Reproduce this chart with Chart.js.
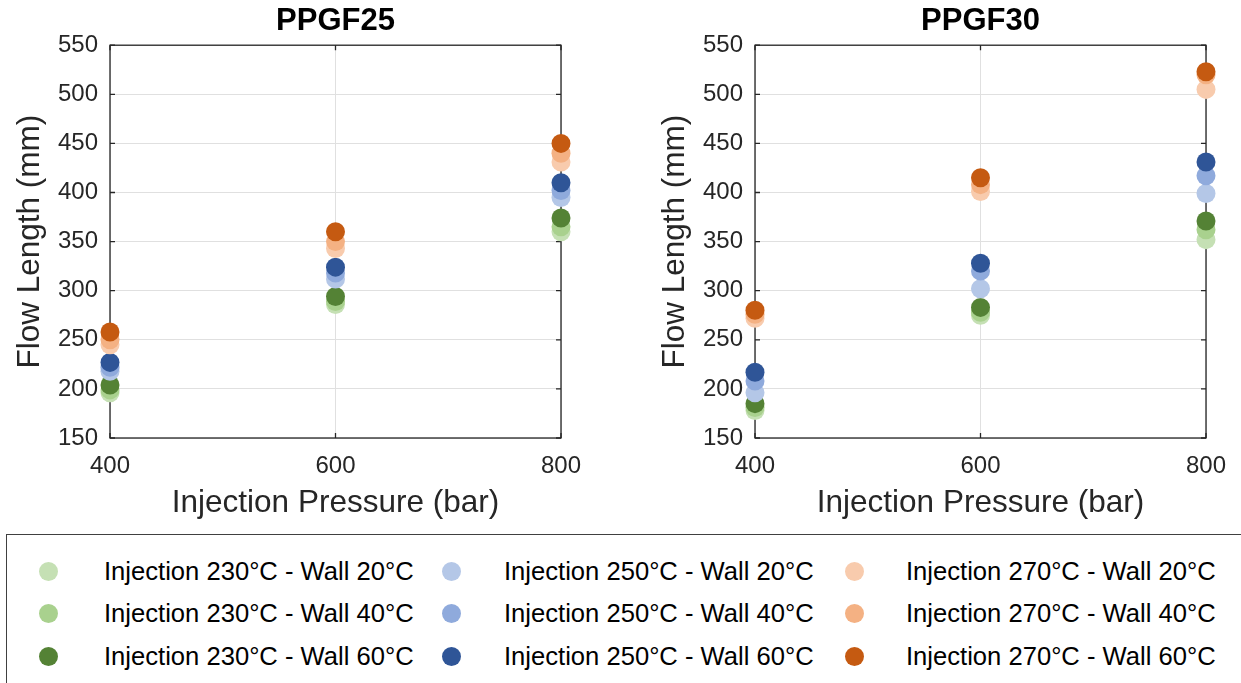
<!DOCTYPE html>
<html>
<head>
<meta charset="utf-8">
<script src="https://cdn.jsdelivr.net/npm/chart.js@4/dist/chart.umd.min.js"></script>
<style>
  html, body { margin: 0; padding: 0; background: #fff; overflow: hidden; }
  body { width: 1241px; height: 683px; position: relative; font-family: "Liberation Sans", Arial, sans-serif; }
  .plot { position: absolute; top: 0; height: 530px; width: 671px; }
  #legend {
    position: absolute; left: 6px; top: 534px; width: 1250px; height: 160px;
    border: 1.5px solid #404040; box-sizing: border-box;
  }
  .item { position: absolute; font-size: 25.6px; color: #000; white-space: nowrap; line-height: 30px; }
  .dot { position: absolute; width: 19px; height: 19px; border-radius: 50%; }
</style>
</head>
<body>
<div class="plot" style="left:0"><canvas id="c25"></canvas></div>
<div class="plot" style="left:645px"><canvas id="c30"></canvas></div>
<div id="legend"></div>

<script>
// x values
const pressures = [400, 600, 800];
const yTicks = [150, 200, 250, 300, 350, 400, 450, 500, 550];

// series labels / colours (order: 230/20, 230/40, 230/60, 250/..., 270/...)
const seriesLabels = [
  "Injection 230°C - Wall 20°C", "Injection 230°C - Wall 40°C", "Injection 230°C - Wall 60°C",
  "Injection 250°C - Wall 20°C", "Injection 250°C - Wall 40°C", "Injection 250°C - Wall 60°C",
  "Injection 270°C - Wall 20°C", "Injection 270°C - Wall 40°C", "Injection 270°C - Wall 60°C"
];
const seriesColors = [
  "#c5e0b4", "#a9d18e", "#548235",
  "#b4c7e7", "#8faadc", "#2f5597",
  "#f8cbad", "#f4b183", "#c55a11"
];

// PPGF25 flow length (mm)
const gf25_230_20 = [196, 286, 360];
const gf25_230_40 = [199, 289, 365];
const gf25_230_60 = [204, 294, 374];
const gf25_250_20 = [218, 312, 395];
const gf25_250_40 = [222, 318, 402];
const gf25_250_60 = [227, 324, 410];
const gf25_270_20 = [245, 343, 431];
const gf25_270_40 = [250, 350, 440];
const gf25_270_60 = [258, 360, 450];

// PPGF30 flow length (mm)
const gf30_230_20 = [178, 275, 352];
const gf30_230_40 = [181, 278, 362];
const gf30_230_60 = [185, 283, 371];
const gf30_250_20 = [196, 302, 399];
const gf30_250_40 = [208, 320, 417];
const gf30_250_60 = [217, 328, 431];
const gf30_270_20 = [272, 401, 505];
const gf30_270_40 = [276, 408, 520];
const gf30_270_60 = [280, 415, 523];

const gf25 = [gf25_230_20, gf25_230_40, gf25_230_60, gf25_250_20, gf25_250_40, gf25_250_60, gf25_270_20, gf25_270_40, gf25_270_60];
const gf30 = [gf30_230_20, gf30_230_40, gf30_230_60, gf30_250_20, gf30_250_40, gf30_250_60, gf30_270_20, gf30_270_40, gf30_270_60];

const FONT = "'Liberation Sans', Arial, sans-serif";
const AXIS = "#262626";

// box around the plot area + inward ticks (matlab style), under the markers
const boxPlugin = {
  id: "box",
  beforeDatasetsDraw(chart) {
    const { ctx, chartArea: a, scales } = chart;
    ctx.save();
    ctx.strokeStyle = AXIS;
    ctx.lineWidth = 1.3;
    ctx.strokeRect(a.left, a.top, a.right - a.left, a.bottom - a.top);
    ctx.beginPath();
    yTicks.forEach(v => {
      const y = scales.y.getPixelForValue(v);
      ctx.moveTo(a.left, y); ctx.lineTo(a.left + 5, y);
      ctx.moveTo(a.right, y); ctx.lineTo(a.right - 5, y);
    });
    pressures.forEach(v => {
      const x = scales.x.getPixelForValue(v);
      ctx.moveTo(x, a.bottom); ctx.lineTo(x, a.bottom - 5);
      ctx.moveTo(x, a.top); ctx.lineTo(x, a.top + 5);
    });
    ctx.stroke();
    ctx.restore();
  }
};

function makeChart(id, title, series) {
  const datasets = series.map((vals, i) => ({
    label: seriesLabels[i],
    data: pressures.map((p, j) => ({ x: p, y: vals[j] })),
    backgroundColor: seriesColors[i],
    borderColor: seriesColors[i],
    borderWidth: 0,
    pointRadius: 9.5,
    pointHoverRadius: 9.5,
    clip: false,
    order: series.length - i
  }));
  new Chart(document.getElementById(id), {
    type: "scatter",
    data: { datasets },
    plugins: [boxPlugin],
    options: {
      responsive: true,
      maintainAspectRatio: false,
      animation: false,
      layout: { padding: { left: 0, right: 110, top: 0, bottom: 0 } },
      plugins: {
        legend: { display: false },
        tooltip: { enabled: false },
        title: {
          display: true, text: title, color: "#000", fullSize: false,
          font: { family: FONT, size: 31, weight: "bold" },
          padding: { top: 3, bottom: 5 }
        }
      },
      scales: {
        x: {
          type: "linear", min: 400, max: 800,
          afterBuildTicks: s => { s.ticks = pressures.map(v => ({ value: v })); },
          afterFit: s => { s.height = 92; },
          grid: { color: "#e0e0e0", drawTicks: false, lineWidth: 1 },
          border: { display: false },
          ticks: { color: AXIS, font: { family: FONT, size: 24 }, padding: 14 },
          title: {
            display: true, text: "Injection Pressure (bar)", color: AXIS,
            font: { family: FONT, size: 31.5 }, padding: { top: 0, bottom: 8 }
          }
        },
        y: {
          type: "linear", min: 150, max: 550,
          afterBuildTicks: s => { s.ticks = yTicks.map(v => ({ value: v })); },
          afterFit: s => { s.width = 110; },
          grid: { color: "#e0e0e0", drawTicks: false, lineWidth: 1 },
          border: { display: false },
          ticks: { color: AXIS, font: { family: FONT, size: 24 }, padding: 12 },
          title: {
            display: true, text: "Flow Length (mm)", color: AXIS,
            font: { family: FONT, size: 31.5 }, padding: { top: 11, bottom: 0 }
          }
        }
      }
    }
  });
}

makeChart("c25", "PPGF25", gf25);
makeChart("c30", "PPGF30", gf30);

// legend: 3 columns x 3 rows
const legend = document.getElementById("legend");
const colDot = [41, 444, 847];
const colText = [97, 497, 899];
const rowY = [36, 78, 121];
seriesLabels.forEach((lab, i) => {
  const col = Math.floor(i / 3), row = i % 3;
  const d = document.createElement("div");
  d.className = "dot";
  d.style.left = (colDot[col] - 9.5) + "px";
  d.style.top = (rowY[row] - 9.5) + "px";
  d.style.background = seriesColors[i];
  legend.appendChild(d);
  const t = document.createElement("div");
  t.className = "item";
  t.textContent = lab;
  t.style.left = colText[col] + "px";
  t.style.top = (rowY[row] - 15) + "px";
  legend.appendChild(t);
});
</script>
</body>
</html>
